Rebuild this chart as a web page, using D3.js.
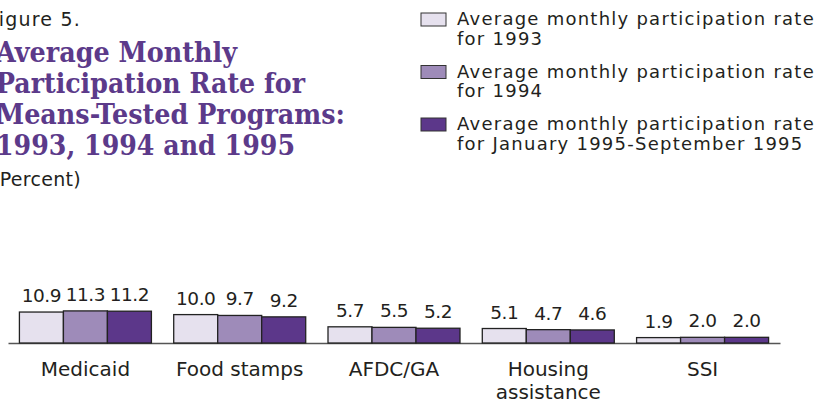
<!DOCTYPE html>
<html>
<head>
<meta charset="utf-8">
<script src="https://cdn.jsdelivr.net/npm/d3@7"></script>
<style>
  body { margin: 0; background: #fff; }
  svg { display: block; }
  .txt { font-family: "DejaVu Sans", sans-serif; fill: #231f20; }
</style>
</head>
<body>
<div id="chart"></div>
<script>
// data
var categories = ['Medicaid', 'Food stamps', 'AFDC/GA', 'Housing assistance', 'SSI'];
var seriesNames = ['1993', '1994', '1995'];
var rates1993 = [10.9, 10.0, 5.7, 5.1, 1.9];
var rates1994 = [11.3, 9.7, 5.5, 4.7, 2.0];
var rates1995 = [11.2, 9.2, 5.2, 4.6, 2.0];
var legendLabels = [
    ['Average monthly participation rate', 'for 1993'],
    ['Average monthly participation rate', 'for 1994'],
    ['Average monthly participation rate', 'for January 1995-September 1995']
];
var titleLines = ['Average Monthly', 'Participation Rate for', 'Means-Tested Programs:', '1993, 1994 and 1995'];

var colors = ['#e6e1ee', '#9e8bb9', '#5c378a'];

// svg area
var svgWidth = 820;
var svgHeight = 404;

var svg = d3.select('#chart')
    .append('svg')
    .attr('width', svgWidth)
    .attr('height', svgHeight);

// title block
svg.append('text')
    .attr('class', 'txt')
    .attr('x', -12)
    .attr('y', 26)
    .style('font-size', '19px')
    .style('letter-spacing', '1.2px')
    .text('Figure 5.');

// widths of the title lines as printed (the font there is narrower)
var titleWidths = [241, 309, 349, 299];

svg.append('g').selectAll('text')
    .data(titleLines)
    .enter()
    .append('text')
    .attr('x', -4)
    .attr('y', (d, i) => 62 + i * 31)
    .attr('textLength', (d, i) => titleWidths[i])
    .attr('lengthAdjust', 'spacingAndGlyphs')
    .style('font-family', '"DejaVu Serif", serif')
    .style('font-weight', 'bold')
    .style('font-size', '27px')
    .style('fill', '#5c3a8a')
    .text(d => d);

svg.append('text')
    .attr('class', 'txt')
    .attr('x', -8)
    .attr('y', 186)
    .style('font-size', '19px')
    .style('letter-spacing', '0.3px')
    .text('(Percent)');

// legend
var legend = svg.append('g')
    .attr('transform', 'translate(421, 13)');

var legendItem = legend.selectAll('g')
    .data(seriesNames)
    .enter()
    .append('g')
    .attr('transform', (d, i) => `translate(0, ${i * 52.5})`);

legendItem.append('rect')
    .attr('width', 25)
    .attr('height', 13)
    .attr('fill', (d, i) => colors[i])
    .attr('stroke', '#333')
    .attr('stroke-width', 1);

legendItem.each(function (d, i) {
    var t = d3.select(this).append('text')
        .attr('class', 'txt')
        .attr('x', 36)
        .attr('y', 12)
        .style('font-size', '18px')
        .style('letter-spacing', '1.25px');
    t.selectAll('tspan')
        .data(legendLabels[i])
        .enter()
        .append('tspan')
        .attr('x', 36)
        .attr('dy', (l, j) => j === 0 ? 0 : 19.5)
        .text(l => l);
});

// chart scales
var baseY = 343;

var x0 = d3.scaleBand()
    .domain(categories)
    .range([8, 780])
    .paddingInner(0.1445)
    .paddingOuter(0.074);

var x1 = d3.scaleBand()
    .domain(seriesNames)
    .range([0, x0.bandwidth()]);

var y = d3.scaleLinear()
    .domain([0, 12])
    .range([baseY, baseY - 12 * 2.84]);

var table = categories.map((c, i) => ({
    category: c,
    values: [rates1993[i], rates1994[i], rates1995[i]]
}));

// axis
var xAxis = svg.append('g')
    .attr('transform', `translate(0, ${baseY})`)
    .call(d3.axisBottom(x0).tickSize(0).tickPadding(0));

xAxis.select('.domain')
    .attr('stroke', '#555')
    .attr('stroke-width', 1.5);

xAxis.selectAll('.tick text')
    .attr('class', 'txt')
    .attr('y', 33)
    .attr('dy', null)
    .style('font-size', '20px')
    .style('font-family', '"DejaVu Sans", sans-serif')
    .each(function (d) {
        var el = d3.select(this);
        var words = d === 'Housing assistance' ? ['Housing', 'assistance'] : [d];
        el.text(null);
        words.forEach((w, j) => {
            el.append('tspan')
                .attr('x', 0)
                .attr('dy', j === 0 ? 0 : 23)
                .text(w);
        });
    });

// bars
var groups = svg.append('g').selectAll('g')
    .data(table)
    .enter()
    .append('g')
    .attr('transform', d => `translate(${x0(d.category)}, 0)`);

groups.selectAll('rect')
    .data(d => d.values.map((v, i) => ({ key: seriesNames[i], value: v, idx: i })))
    .enter()
    .append('rect')
    .attr('x', d => x1(d.key))
    .attr('y', d => y(d.value))
    .attr('width', x1.bandwidth())
    .attr('height', d => baseY - y(d.value))
    .attr('fill', d => colors[d.idx])
    .attr('stroke', '#222')
    .attr('stroke-width', 1.3);

groups.selectAll('text.val')
    .data(d => d.values.map((v, i) => ({ key: seriesNames[i], value: v })))
    .enter()
    .append('text')
    .attr('class', 'txt val')
    .attr('x', d => x1(d.key) + x1.bandwidth() / 2)
    .attr('y', d => y(d.value) - 10)
    .attr('text-anchor', 'middle')
    .style('font-size', '18.5px')
    .style('letter-spacing', '-0.5px')
    .text(d => d3.format('.1f')(d.value));
</script>
</body>
</html>
